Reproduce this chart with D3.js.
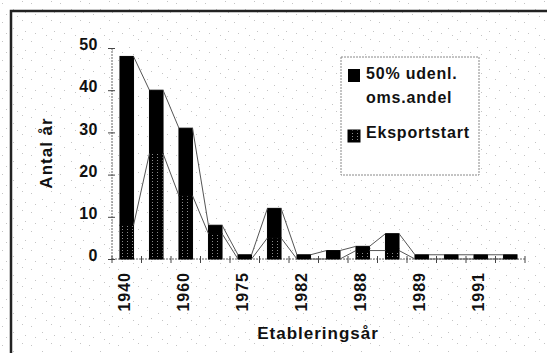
<!DOCTYPE html>
<html><head><meta charset="utf-8">
<script src="https://cdn.jsdelivr.net/npm/d3@7"></script>
<style>html,body{margin:0;padding:0;background:#fff;}svg{display:block;}</style>
</head><body>
<script>
// ---- data ----
const categories = ["1940","","1960","","1975","","1982","","1988","","1989","","1991",""];
const eksportstart = [8, 25, 15, 6, 0, 5, 0, 0, 2, 2, 0, 0, 0, 0];
const udenl50 = [40, 15, 16, 2, 1, 7, 1, 2, 1, 4, 1, 1, 1, 1];
const yTicks = [0, 10, 20, 30, 40, 50];
const seriesNames = ["50% udenl. oms.andel", "Eksportstart"];

const W = 547, H = 353;
const svg = d3.select("body").append("svg").attr("width", W).attr("height", H);
const defs = svg.append("defs");

// background stipple texture
const bg = defs.append("pattern").attr("id","stip").attr("patternUnits","userSpaceOnUse")
  .attr("width",29).attr("height",19);
[[2,3],[13,9],[22,1],[6,14],[25,12],[17,16]].forEach(p=>{
  bg.append("rect").attr("x",p[0]).attr("y",p[1]).attr("width",1).attr("height",1).attr("fill","#c4c4c4");
});
svg.append("rect").attr("width",W).attr("height",H).attr("fill","#fff");
svg.append("rect").attr("width",W).attr("height",H).attr("fill","url(#stip)");

// pattern for Eksportstart
const pat = defs.append("pattern").attr("id","eks").attr("patternUnits","userSpaceOnUse")
  .attr("width",5).attr("height",3);
pat.append("rect").attr("width",5).attr("height",3).attr("fill","#000");
pat.append("rect").attr("x",2).attr("y",1).attr("width",1).attr("height",1).attr("fill","#8a8a8a");

// frame
svg.append("path").attr("d",`M11,${H} L11,11 L${W},11`).attr("fill","none")
  .attr("stroke","#222").attr("stroke-width",2.5);

const font = "'Liberation Sans', Arial, sans-serif";

const x = d3.scaleBand().domain(d3.range(categories.length)).range([112, 525]).paddingInner(0).paddingOuter(0);
const y = d3.scaleLinear().domain([0, 50]).range([259, 48]);
const bw = x.bandwidth() * 0.46;

const rows = categories.map((c,i)=>({i, eks: eksportstart[i], ud: udenl50[i]}));
const stack = d3.stack().keys(["eks","ud"])(rows);

// axes lines
svg.append("line").attr("x1",112).attr("x2",112).attr("y1",y(50)).attr("y2",y(0))
  .attr("stroke","#666").attr("stroke-width",1).attr("stroke-dasharray","2,1");
svg.append("line").attr("x1",112).attr("x2",525).attr("y1",y(0)).attr("y2",y(0))
  .attr("stroke","#666").attr("stroke-width",1).attr("stroke-dasharray","2,1");

// y axis via d3
const yAxis = d3.axisLeft(y).tickValues(yTicks).tickSize(4).tickPadding(10);
const ya = svg.append("g").attr("transform","translate(112,0)").call(yAxis);
ya.select(".domain").remove();
ya.selectAll(".tick line").attr("stroke","#444").attr("x2",-4).attr("x1",3);
ya.selectAll(".tick text").attr("font-family",font).attr("font-weight","bold")
  .attr("font-size","16px").attr("letter-spacing","0.5px").attr("fill","#111").attr("dy","0.1em");

// x ticks at category boundaries
const bounds = d3.range(categories.length+1).map(k => 112 + k*x.step());
svg.append("g").selectAll("line").data(bounds).join("line")
  .attr("x1",d=>d).attr("x2",d=>d).attr("y1",y(0)-3).attr("y2",y(0)+4)
  .attr("stroke","#444").attr("stroke-width",1);

// x labels
svg.append("g").selectAll("text").data(categories.map((c,i)=>({c,i})).filter(d=>d.c!==""))
  .join("text")
  .attr("transform",d=>`translate(${x(d.i)+x.bandwidth()/2-2},272) rotate(-90)`)
  .attr("text-anchor","end").attr("dy","0.35em")
  .attr("font-family",font).attr("font-weight","bold").attr("font-size","16px")
  .attr("letter-spacing","1px").attr("fill","#111")
  .text(d=>d.c);

// bars
const fills = ["url(#eks)", "#000"];
stack.forEach((layer, li) => {
  svg.append("g").selectAll("rect").data(layer.filter(d => d[1] > d[0])).join("rect")
    .attr("x", d => x(d.data.i) + (x.bandwidth()-bw)/2)
    .attr("y", d => y(d[1]))
    .attr("width", bw)
    .attr("height", d => y(d[0]) - y(d[1]))
    .attr("fill", fills[li])
    .attr("stroke","#000").attr("stroke-width",1);
});

// series lines
stack.forEach(layer => {
  const segs = [];
  for (let i = 0; i < layer.length-1; i++) {
    segs.push([x(i)+(x.bandwidth()+bw)/2, y(layer[i][1]), x(i+1)+(x.bandwidth()-bw)/2, y(layer[i+1][1])]);
  }
  svg.append("g").selectAll("line").data(segs).join("line")
    .attr("x1",d=>d[0]).attr("y1",d=>d[1]).attr("x2",d=>d[2]).attr("y2",d=>d[3])
    .attr("stroke","#555").attr("stroke-width",1);
});

// axis titles
svg.append("text").attr("transform","translate(52,153) rotate(-90)")
  .attr("text-anchor","middle").attr("font-family",font).attr("font-weight","bold")
  .attr("font-size","17px").attr("letter-spacing","1px").attr("fill","#111").text("Antal år");
svg.append("text").attr("x",318).attr("y",339)
  .attr("text-anchor","middle").attr("font-family",font).attr("font-weight","bold")
  .attr("font-size","17px").attr("letter-spacing","1px").attr("fill","#111").text("Etableringsår");

// legend
const lg = svg.append("g");
lg.append("rect").attr("x",341).attr("y",57).attr("width",138).attr("height",118)
  .attr("fill","#fff").attr("stroke","#888").attr("stroke-width",1).attr("stroke-dasharray","2,1");
lg.append("rect").attr("x",348).attr("y",69).attr("width",12).attr("height",13).attr("fill","#000");
lg.append("rect").attr("x",348).attr("y",130).attr("width",12).attr("height",12)
  .attr("fill","url(#eks)").attr("stroke","#000");
const lt = (t, yy) => lg.append("text").attr("x",366).attr("y",yy).attr("font-family",font)
  .attr("font-weight","bold").attr("font-size","16px").attr("letter-spacing","0.8px").attr("fill","#111").text(t);
lt("50% udenl.", 79);
lt("oms.andel", 103);
lt("Eksportstart", 138);
</script>
</body></html>
